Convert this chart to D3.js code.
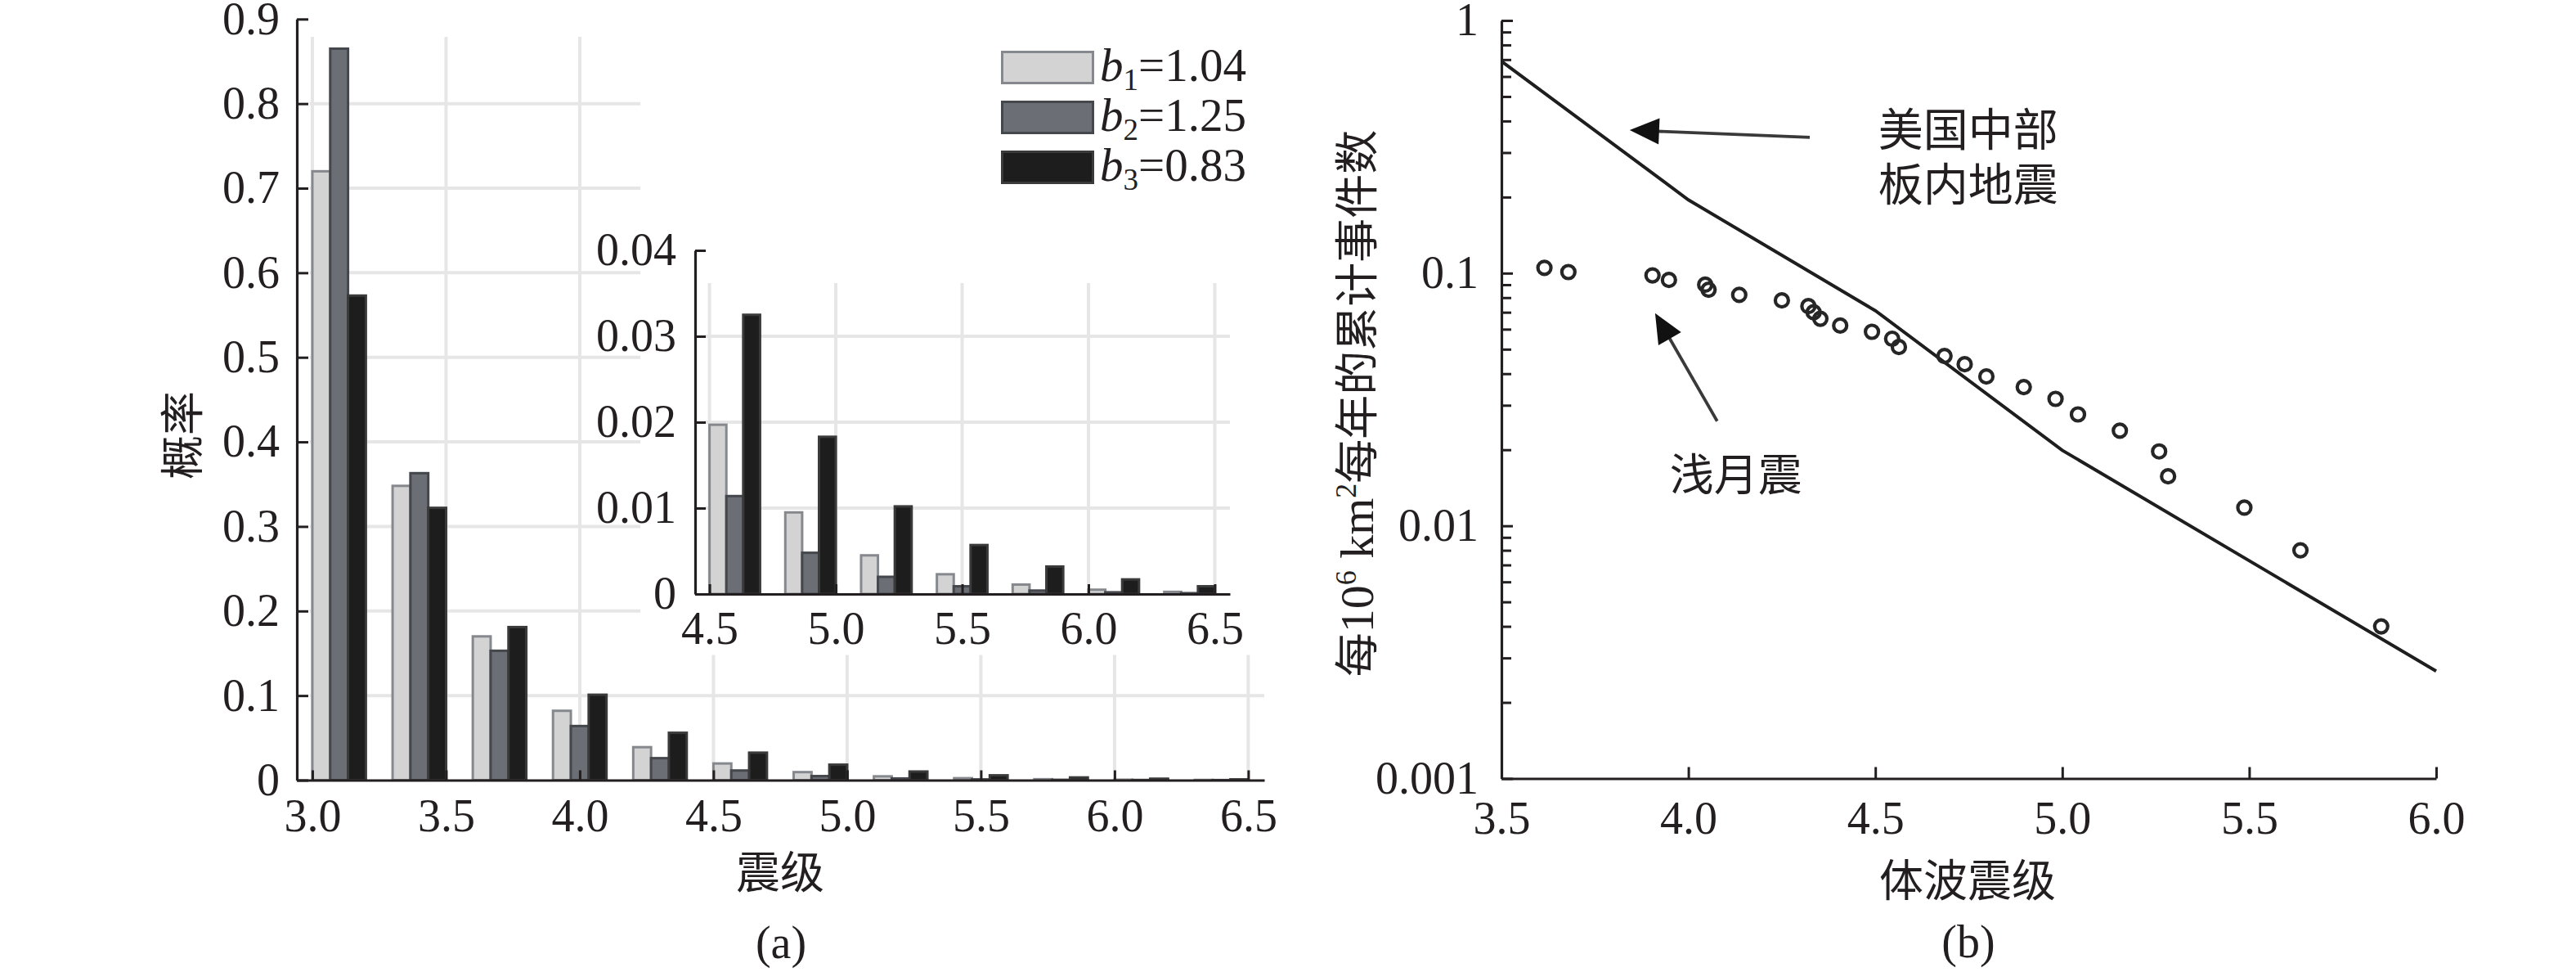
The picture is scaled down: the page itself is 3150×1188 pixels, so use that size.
<!DOCTYPE html>
<html>
<head>
<meta charset="utf-8">
<script src="https://cdn.jsdelivr.net/npm/d3@7"></script>
<style>
  body { margin: 0; background: #fff; }
</style>
</head>
<body>
<script>
// ----- ----- ----- ----- ----- ----- ----- ----- -----
// DATA
// (a) probability per magnitude bin, bins are 0.3 wide
var binStarts = [3.0, 3.3, 3.6, 3.9, 4.2, 4.5, 4.8, 5.1, 5.4, 5.7, 6.0, 6.3];
var probB1 = [0.720, 0.348, 0.170, 0.082, 0.039, 0.0197, 0.0095, 0.0045, 0.0023, 0.0011, 0.0005, 0.00025];
var probB2 = [0.865, 0.363, 0.153, 0.064, 0.026, 0.0114, 0.0048, 0.0020, 0.0009, 0.0004, 0.0002, 0.0001];
var probB3 = [0.573, 0.322, 0.181, 0.101, 0.056, 0.0325, 0.0183, 0.0102, 0.0057, 0.0032, 0.0017, 0.0009];
var seriesNames = ["1", "2", "3"];
var seriesValues = ["1.04", "1.25", "0.83"];

var aTicksX = [3.0, 3.5, 4.0, 4.5, 5.0, 5.5, 6.0, 6.5];
var aTicksY = [0, 0.1, 0.2, 0.3, 0.4, 0.5, 0.6, 0.7, 0.8, 0.9];
var aGridY = [0.1, 0.2, 0.3, 0.4, 0.5, 0.6, 0.7, 0.8];
var insetTicksX = [4.5, 5.0, 5.5, 6.0, 6.5];
var insetTicksY = [0, 0.01, 0.02, 0.03, 0.04];
var insetGridY = [0.01, 0.02, 0.03];

// (b) cumulative events per 10^6 km^2 per year
var quakeMag = [3.615, 3.679, 3.904, 3.948, 4.045, 4.054, 4.136, 4.25, 4.321, 4.335, 4.353, 4.406,
    4.491, 4.545, 4.563, 4.685, 4.739, 4.797, 4.897, 4.982, 5.042, 5.154, 5.259, 5.283, 5.487, 5.637, 5.853];
var quakeRate = [0.105, 0.101, 0.098, 0.094, 0.090, 0.086, 0.082, 0.078, 0.074, 0.070, 0.066, 0.062,
    0.0586, 0.055, 0.051, 0.047, 0.0436, 0.039, 0.0354, 0.0318, 0.0276, 0.0238, 0.0197, 0.0157, 0.0118, 0.0080, 0.0040];
var cusMag = [3.5, 4.0, 4.5, 5.0, 6.0];
var cusRate = [0.69, 0.195, 0.071, 0.0199, 0.00266];

var bTicksX = [3.5, 4.0, 4.5, 5.0, 5.5, 6.0];
var bTicksY = [1, 0.1, 0.01, 0.001];
var bTickLabelsY = ["1", "0.1", "0.01", "0.001"];

// ----- ----- ----- ----- ----- ----- ----- ----- -----
// STYLE
var ink = "#231f20";
var serif = "'Liberation Serif', 'Times New Roman', 'Noto Sans CJK SC', serif";
var cjk = "'Noto Sans CJK SC', 'Liberation Serif', sans-serif";
var fills = ["#d3d3d3", "#6b6e75", "#1d1d1d"];
var edges = ["#85888d", "#44474c", "#3a3a3a"];
var gridColor = "#e6e6e6";
var barWidth = 0.0667;

var svg = d3.select("body")
    .append("svg")
    .attr("width", 3150)
    .attr("height", 1188);

svg.append("rect").attr("width", 3150).attr("height", 1188).attr("fill", "#fff");

function styleAxis(g, size) {
    g.attr("font-family", null).attr("font-size", null);
    g.select(".domain").attr("stroke", ink).attr("stroke-width", 3.2);
    g.selectAll(".tick line").attr("stroke", ink).attr("stroke-width", 3);
    g.selectAll(".tick text")
        .attr("font-family", serif)
        .attr("font-size", size)
        .attr("fill", ink);
}

var seriesList = [probB1, probB2, probB3];

function drawBars(g, xs, ys, bins) {
    seriesList.forEach(function (vals, k) {
        g.selectAll(null)
            .data(bins)
            .enter()
            .append("rect")
            .attr("x", function (d) { return xs(binStarts[d] + k * barWidth); })
            .attr("width", xs(barWidth) - xs(0))
            .attr("y", function (d) { return ys(vals[d]); })
            .attr("height", function (d) { return ys(0) - ys(vals[d]); })
            .attr("fill", fills[k])
            .attr("stroke", edges[k])
            .attr("stroke-width", 3);
    });
}

// ----- ----- ----- ----- ----- ----- ----- ----- -----
// PANEL (a)
var ax = d3.scaleLinear().domain([2.942, 6.56]).range([363, 1546]);
var ay = d3.scaleLinear().domain([0, 0.9]).range([953.5, 23.3]);

var gA = svg.append("g");

// grid
gA.selectAll(null).data(aTicksX).enter().append("line")
    .attr("x1", function (d) { return ax(d); }).attr("x2", function (d) { return ax(d); })
    .attr("y1", ay(0.879)).attr("y2", ay(0))
    .attr("stroke", gridColor).attr("stroke-width", 4);
gA.selectAll(null).data(aGridY).enter().append("line")
    .attr("x1", ax(2.99)).attr("x2", ax(6.56))
    .attr("y1", function (d) { return ay(d); }).attr("y2", function (d) { return ay(d); })
    .attr("stroke", gridColor).attr("stroke-width", 4);

drawBars(gA, ax, ay, d3.range(binStarts.length));

gA.append("g")
    .attr("transform", "translate(0," + ay(0) + ")")
    .call(d3.axisBottom(ax).tickValues(aTicksX).tickSize(-12).tickSizeOuter(0).tickPadding(23)
        .tickFormat(d3.format(".1f")))
    .call(styleAxis, 56);
gA.append("g")
    .attr("transform", "translate(" + ax.range()[0] + ",0)")
    .call(d3.axisLeft(ay).tickValues(aTicksY).tickSize(-14).tickSizeOuter(0).tickPadding(21)
        .tickFormat(function (d) { return d === 0 ? "0" : d3.format(".1f")(d); }))
    .call(styleAxis, 56);

// white backing behind the inset and the legend
gA.append("rect")
    .attr("x", ax(4.227)).attr("y", 0)
    .attr("width", 1580 - ax(4.227)).attr("height", ay(0.148))
    .attr("fill", "#fff");

// inset
var ix = d3.scaleLinear().domain([4.443, 6.56]).range([850, 1504]);
var iy = d3.scaleLinear().domain([0, 0.04]).range([726, 306]);
var gI = gA.append("g");

gI.selectAll(null).data(insetTicksX).enter().append("line")
    .attr("x1", function (d) { return ix(d); }).attr("x2", function (d) { return ix(d); })
    .attr("y1", iy(0.0362)).attr("y2", iy(0))
    .attr("stroke", gridColor).attr("stroke-width", 4);
gI.selectAll(null).data(insetGridY).enter().append("line")
    .attr("x1", ix(4.48)).attr("x2", ix(6.56))
    .attr("y1", function (d) { return iy(d); }).attr("y2", function (d) { return iy(d); })
    .attr("stroke", gridColor).attr("stroke-width", 4);

drawBars(gI, ix, iy, d3.range(binStarts.length).filter(function (i) { return binStarts[i] >= 4.5; }));

gI.append("g")
    .attr("transform", "translate(0," + iy(0) + ")")
    .call(d3.axisBottom(ix).tickValues(insetTicksX).tickSize(-12).tickSizeOuter(0).tickPadding(21)
        .tickFormat(d3.format(".1f")))
    .call(styleAxis, 56);
gI.append("g")
    .attr("transform", "translate(" + ix.range()[0] + ",0)")
    .call(d3.axisLeft(iy).tickValues(insetTicksY).tickSize(-13).tickSizeOuter(0).tickPadding(23)
        .tickFormat(function (d) { return d === 0 ? "0" : d3.format(".2f")(d); }))
    .call(styleAxis, 56);

// legend
var legend = gA.append("g").attr("transform", "translate(1224,62)");
seriesNames.forEach(function (name, k) {
    var row = legend.append("g").attr("transform", "translate(0," + (k * 61) + ")");
    row.append("rect")
        .attr("x", 1.5).attr("y", 1.5).attr("width", 111).attr("height", 38)
        .attr("fill", fills[k]).attr("stroke", edges[k]).attr("stroke-width", 3);
    var t = row.append("text")
        .attr("x", 121).attr("y", 37)
        .attr("font-family", serif).attr("font-size", 57).attr("fill", ink);
    t.append("tspan").attr("font-style", "italic").text("b");
    t.append("tspan").attr("font-size", 37).attr("dy", 11).text(name);
    t.append("tspan").attr("dy", -11).text("=" + seriesValues[k]);
});

// labels
svg.append("text")
    .attr("transform", "translate(224,532) rotate(-90)")
    .attr("text-anchor", "middle").attr("dy", "0.36em")
    .attr("font-family", cjk).attr("font-size", 54).attr("fill", ink)
    .text("概率");
svg.append("text")
    .attr("x", 954).attr("y", 1067).attr("dy", "0.36em")
    .attr("text-anchor", "middle")
    .attr("font-family", cjk).attr("font-size", 54).attr("fill", ink)
    .text("震级");
svg.append("text")
    .attr("x", 955).attr("y", 1171)
    .attr("text-anchor", "middle")
    .attr("font-family", serif).attr("font-size", 56).attr("fill", ink)
    .text("(a)");

// ----- ----- ----- ----- ----- ----- ----- ----- -----
// PANEL (b)
var bx = d3.scaleLinear().domain([3.5, 6.0]).range([1836, 2979]);
var by = d3.scaleLog().domain([0.001, 1]).range([951.5, 25]);
var gB = svg.append("g");

var yAxisB = gB.append("g")
    .attr("transform", "translate(" + bx(3.5) + ",0)")
    .call(d3.axisLeft(by).tickValues(by.ticks()).tickSize(-14).tickSizeOuter(0).tickPadding(28)
        .tickFormat(function (d) {
            var i = bTicksY.indexOf(d);
            return i >= 0 ? bTickLabelsY[i] : "";
        }))
    .call(styleAxis, 56);
yAxisB.selectAll(".tick line")
    .attr("x2", function (d) { return bTicksY.indexOf(d) >= 0 ? 14 : 12; });

gB.append("g")
    .attr("transform", "translate(0," + by(0.001) + ")")
    .call(d3.axisBottom(bx).tickValues(bTicksX).tickSize(-14).tickSizeOuter(0).tickPadding(28)
        .tickFormat(d3.format(".1f")))
    .call(styleAxis, 56);

// central US intraplate line
gB.append("path")
    .datum(d3.range(cusMag.length))
    .attr("fill", "none")
    .attr("stroke", "#1e1e1e")
    .attr("stroke-width", 4)
    .attr("d", d3.line()
        .x(function (i) { return bx(cusMag[i]); })
        .y(function (i) { return by(cusRate[i]); }));

// shallow moonquakes
gB.selectAll(null)
    .data(d3.range(quakeMag.length))
    .enter()
    .append("circle")
    .attr("cx", function (i) { return bx(quakeMag[i]); })
    .attr("cy", function (i) { return by(quakeRate[i]); })
    .attr("r", 8)
    .attr("fill", "none")
    .attr("stroke", "#262626")
    .attr("stroke-width", 4.2);

// arrows (tail -> tip, in data coordinates)
var arrowTail = [[4.3246, 0.3445], [4.077, 0.02596]];
var arrowTip = [[3.843, 0.368], [3.911, 0.0694]];
arrowTail.forEach(function (tail, k) {
    var x0 = bx(tail[0]), y0 = by(tail[1]);
    var x1 = bx(arrowTip[k][0]), y1 = by(arrowTip[k][1]);
    var len = Math.hypot(x1 - x0, y1 - y0);
    var ux = (x1 - x0) / len, uy = (y1 - y0) / len;
    var hl = 36, hw = 16;
    var bxp = x1 - ux * hl, byp = y1 - uy * hl;
    gB.append("line")
        .attr("x1", x0).attr("y1", y0).attr("x2", bxp + ux * 4).attr("y2", byp + uy * 4)
        .attr("stroke", "#3a3a3a").attr("stroke-width", 3.8);
    gB.append("path")
        .attr("d", "M" + x1 + "," + y1 +
            "L" + (bxp - uy * hw) + "," + (byp + ux * hw) +
            "L" + (bxp + uy * hw) + "," + (byp - ux * hw) + "Z")
        .attr("fill", "#111");
});

// annotations
svg.append("text")
    .attr("x", bx(4.508)).attr("y", by(0.371)).attr("dy", "0.36em")
    .attr("font-family", cjk).attr("font-size", 55).attr("fill", ink)
    .text("美国中部");
svg.append("text")
    .attr("x", bx(4.508)).attr("y", by(0.225)).attr("dy", "0.36em")
    .attr("font-family", cjk).attr("font-size", 55).attr("fill", ink)
    .text("板内地震");
svg.append("text")
    .attr("x", bx(3.95)).attr("y", by(0.0159)).attr("dy", "0.36em")
    .attr("font-family", cjk).attr("font-size", 54).attr("fill", ink)
    .text("浅月震");

// axis titles
var yLabelB = svg.append("text")
    .attr("transform", "translate(1660,493) rotate(-90)")
    .attr("text-anchor", "middle").attr("dy", "0.36em")
    .attr("font-size", 54).attr("fill", ink);
yLabelB.append("tspan").attr("font-family", cjk).text("每");
yLabelB.append("tspan").attr("font-family", serif).attr("font-size", 58).text("10");
yLabelB.append("tspan").attr("font-family", serif).attr("font-size", 36).attr("dy", -21).text("6");
yLabelB.append("tspan").attr("font-family", serif).attr("font-size", 58).attr("dy", 21).text(" km");
yLabelB.append("tspan").attr("font-family", serif).attr("font-size", 36).attr("dy", -21).text("2");
yLabelB.append("tspan").attr("font-family", cjk).attr("dy", 21).text("每年的累计事件数");

svg.append("text")
    .attr("x", 2406).attr("y", 1077).attr("dy", "0.36em")
    .attr("text-anchor", "middle")
    .attr("font-family", cjk).attr("font-size", 54).attr("fill", ink)
    .text("体波震级");
svg.append("text")
    .attr("x", 2407).attr("y", 1170)
    .attr("text-anchor", "middle")
    .attr("font-family", serif).attr("font-size", 56).attr("fill", ink)
    .text("(b)");
</script>
</body>
</html>
